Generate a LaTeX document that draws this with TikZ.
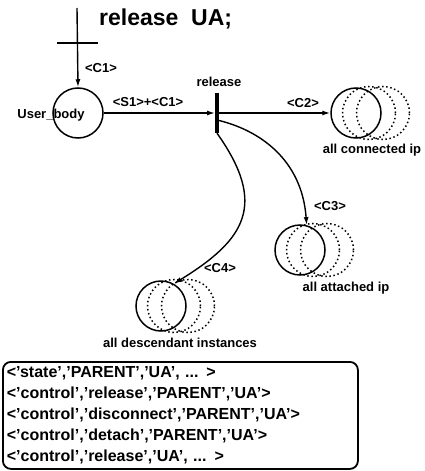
\documentclass[tikz,border=0pt]{standalone}
\usepackage{fontspec}
\setmainfont{Liberation Sans}
\usetikzlibrary{arrows.meta, positioning}
\tikzset{
  lbl/.style   ={font=\fontsize{13}{15}\selectfont\bfseries, inner sep=1pt},
  place/.style ={draw, circle, line width=1.5pt, minimum size=50pt, inner sep=0pt},
  ghost/.style ={line width=1.5pt, dash pattern=on 1.5pt off 2.6pt},
  hbar/.style  ={fill=black, inner sep=0pt, minimum width=41pt, minimum height=2.6pt},
  vbar/.style  ={fill=black, inner sep=0pt, minimum width=3.6pt, minimum height=40pt},
  flow/.style  ={-{Latex[length=8pt,width=5pt]}, line width=1.4pt},
  msgbox/.style={draw, line width=1.8pt, rounded corners=8pt, align=left,
                 font=\fontsize{16}{21}\selectfont\bfseries, inner sep=0pt,
                 minimum width=355pt, minimum height=107pt, text width=347pt}
}
\begin{document}
\begin{tikzpicture}[x=1pt, y=-1pt]
  \useasboundingbox (0,0) rectangle (424,471);

  % title and places
  \node[font=\fontsize{23}{25}\selectfont\bfseries, anchor=base west, inner sep=0pt] (title) at (99,25) {release\ \ UA;};
  \coordinate (top) at (77,8);
  \node[hbar] (tbar) at (77,43) {};
  \node[place] (user) at (78,113) {};
  \node[vbar] (rel) at (217,113) {};
  \node[place] (conn) at (356,113) {};
  \node[place] (att) at (300,250) {};
  \node[place] (desc) at (161,306) {};
  \foreach \p in {conn,att,desc} {
    \draw[ghost] ([xshift=13pt]\p.center) circle (26.5pt);
    \draw[ghost] ([xshift=27pt]\p.center) circle (26.5pt);
  }

  % connectors
  \draw[flow] (top) -- (user.north);
  \draw[flow] (user.east) -- (rel.west);
  \draw[flow] (rel.center) -- (conn.west);
  \draw[flow] ([yshift=-7pt]rel.center) .. controls (260,130) and (302,160) .. (att.75);
  \draw[flow] (rel.south) .. controls (268,205) and (245,240) .. (desc.60);

  % labels
  \node[lbl] (lc1) at (101,68) {<C1>};
  \node[lbl] (luser) at (51,115) {User\_body};
  \node[lbl] (ls1) at (148,102) {<S1>+<C1>};
  \node[lbl] (lrel) at (219,82) {release};
  \node[lbl] (lc2) at (303,103) {<C2>};
  \node[lbl] (lconn) at (372,150) {all connected ip};
  \node[lbl] (lc3) at (330,206) {<C3>};
  \node[lbl] (latt) at (346,288) {all attached ip};
  \node[lbl] (lc4) at (220,268) {<C4>};
  \node[lbl] (ldesc) at (180,343) {all descendant instances};

  % message list
  \node[msgbox, anchor=north west] (msgs) at (2,361) {%
    <'state','PARENT','UA', ... >\\
    <'control','release','PARENT','UA'>\\
    <'control','disconnect','PARENT','UA'>\\
    <'control','detach','PARENT','UA'>\\
    <'control','release','UA', ... >};
\end{tikzpicture}
\end{document}
